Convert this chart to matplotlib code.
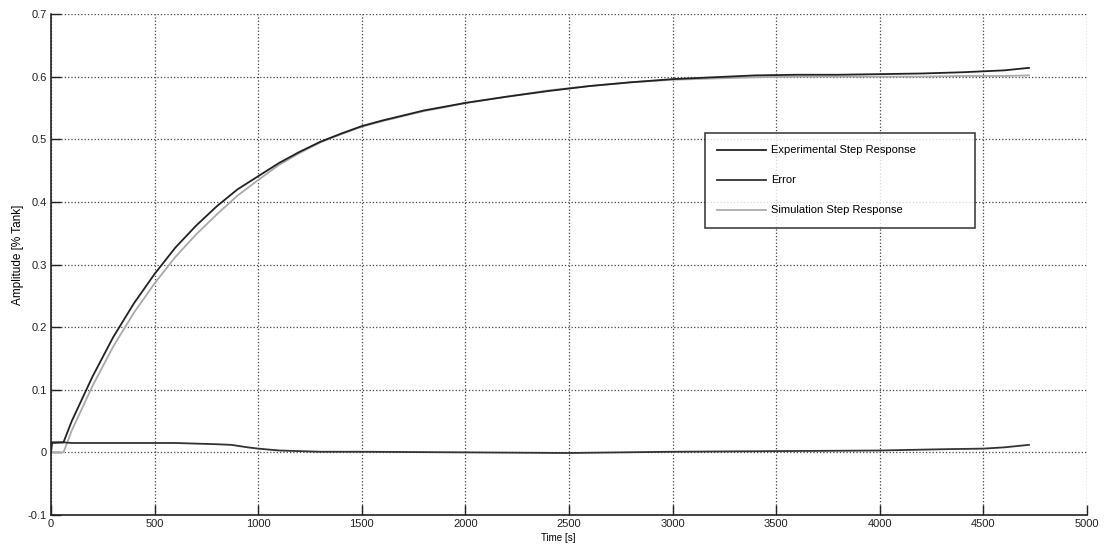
import matplotlib
matplotlib.use("Agg")
import matplotlib.pyplot as plt

plt.rcParams['font.family'] = ['Liberation Sans', 'DejaVu Sans']

# Experimental step response
t_exp = [0, 5, 60, 100, 200, 300, 400, 500, 600, 700, 800, 900, 1000, 1100, 1200, 1300,
         1400, 1500, 1600, 1700, 1800, 1900, 2000, 2200, 2400, 2600, 2800, 3000, 3200,
         3400, 3600, 3800, 4000, 4200, 4400, 4600, 4720]
y_exp = [0.0, 0.016, 0.016, 0.05, 0.121, 0.184, 0.238, 0.285, 0.327, 0.362, 0.393, 0.42,
         0.441, 0.462, 0.48, 0.496, 0.509, 0.521, 0.53, 0.538, 0.546, 0.552, 0.558, 0.568,
         0.577, 0.585, 0.591, 0.596, 0.599, 0.602, 0.603, 0.603, 0.604, 0.605, 0.607,
         0.610, 0.614]

# Simulation step response
t_sim = [0, 60, 100, 200, 300, 400, 500, 600, 700, 800, 900, 1000, 1100, 1200, 1300,
         1400, 1500, 1600, 1700, 1800, 1900, 2000, 2200, 2400, 2600, 2800, 3000, 3200,
         3400, 3600, 3800, 4000, 4200, 4400, 4600, 4720]
y_sim = [0.0, 0.0, 0.035, 0.106, 0.169, 0.223, 0.27, 0.312, 0.348, 0.38, 0.41, 0.435,
         0.459, 0.478, 0.495, 0.508, 0.52, 0.529, 0.537, 0.545, 0.551, 0.558, 0.568,
         0.578, 0.585, 0.591, 0.595, 0.597, 0.599, 0.6, 0.6, 0.6, 0.6, 0.601,
         0.601, 0.602]

# Error
t_err = [0, 60, 100, 200, 300, 400, 500, 600, 700, 800, 870, 950, 1000, 1100, 1200, 1300,
         1500, 2000, 2500, 3000, 3500, 4000, 4300, 4500, 4600, 4720]
y_err = [0.015, 0.016, 0.015, 0.015, 0.015, 0.015, 0.015, 0.015, 0.014, 0.013, 0.012,
         0.008, 0.006, 0.003, 0.002, 0.001, 0.001, 0.0, -0.001, 0.001, 0.002, 0.003,
         0.005, 0.006, 0.008, 0.012]

xticks = [0, 500, 1000, 1500, 2000, 2500, 3000, 3500, 4000, 4500, 5000]
yticks = [-0.1, 0, 0.1, 0.2, 0.3, 0.4, 0.5, 0.6, 0.7]
ytick_labels = ['-0.1', '0', '0.1', '0.2', '0.3', '0.4', '0.5', '0.6', '0.7']

fig = plt.figure(figsize=(11.05, 5.47), dpi=100)
ax = fig.add_axes([0.0462, 0.0585, 0.9375, 0.9159])

ax.plot(t_exp, y_exp, color='#222222', lw=1.3, label='Experimental Step Response', zorder=4)
ax.plot(t_err, y_err, color='#333333', lw=1.3, label='Error', zorder=3)
ax.plot(t_sim, y_sim, color='#aaaaaa', lw=1.3, label='Simulation Step Response', zorder=2)

ax.set_xlim(0, 5000)
ax.set_ylim(-0.1, 0.7)
ax.set_xticks(xticks)
ax.set_xticklabels([str(v) for v in xticks])
ax.set_yticks(yticks)
ax.set_yticklabels(ytick_labels)
ax.tick_params(direction='in', length=7, width=1, labelsize=8, colors='#222222', pad=3)

ax.grid(True, linestyle=':', color='#444444', linewidth=0.9)
ax.spines['top'].set_visible(False)
ax.spines['right'].set_visible(False)
for s in ('left', 'bottom'):
    ax.spines[s].set_linewidth(1.2)
    ax.spines[s].set_color('#222222')

ax.set_xlabel('Time [s]', fontsize=7, labelpad=1)
ax.xaxis.set_label_coords(0.49, -0.035)
ax.set_ylabel('Amplitude [% Tank]', fontsize=8.5, labelpad=4)
ax.yaxis.set_label_coords(-0.026, 0.52)

leg = ax.legend(loc='upper left', bbox_to_anchor=(0.631, 0.573, 0.261, 0.189),
                mode='expand', borderaxespad=0, fontsize=8, frameon=True, fancybox=False,
                edgecolor='#111111', handlelength=4.4, labelspacing=1.8,
                borderpad=1.1, handletextpad=0.45)
leg.get_frame().set_linewidth(1.2)

fig.savefig('out.png', dpi=100)
